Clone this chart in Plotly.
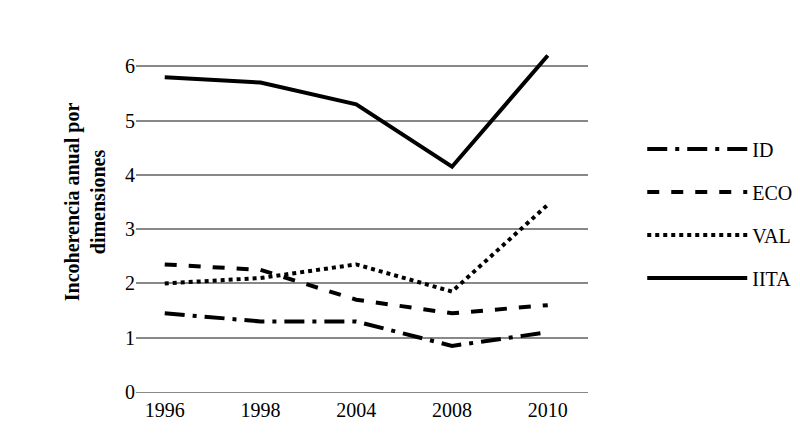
import plotly.graph_objects as go

years = ["1996", "1998", "2004", "2008", "2010"]
ID = [1.45, 1.3, 1.3, 0.85, 1.1]
ECO = [2.35, 2.25, 1.7, 1.45, 1.6]
VAL = [2.0, 2.1, 2.35, 1.85, 3.45]
IITA = [5.8, 5.7, 5.3, 4.15, 6.2]

xs = list(range(len(years)))
fig = go.Figure()
for name, ys, dash in [("ID", ID, "longdashdot"), ("ECO", ECO, "dash"),
                       ("VAL", VAL, "dot"), ("IITA", IITA, "solid")]:
    fig.add_trace(go.Scatter(x=xs, y=ys, name=name, mode="lines", legendgroup=name,
                             line=dict(color="black", width=4, dash=dash)))

fig.update_layout(
    width=800, height=436, paper_bgcolor="white", plot_bgcolor="white",
    margin=dict(l=128, r=220, t=4, b=52),
    font=dict(family="Liberation Serif", size=20, color="black"),
    legend=dict(x=1.12, y=0.47, yanchor="middle", font=dict(size=20),
                traceorder="grouped", tracegroupgap=14, itemwidth=100),
    showlegend=True,
)
fig.update_xaxes(tickvals=xs, ticktext=years, range=[-0.3, 4.42],
                 showgrid=False, showline=True, linecolor="#888", zeroline=False,
                 ticks="", tickfont=dict(size=20))
fig.update_yaxes(range=[0, 7], dtick=1, showgrid=True, gridcolor="#888",
                 gridwidth=1.5, zeroline=False, showline=False, ticks="",
                 tickfont=dict(size=20),
                 title=dict(text="<b>Incoherencia anual por<br>dimensiones</b>",
                            font=dict(size=20), standoff=14))
fig.write_html("out.html")
